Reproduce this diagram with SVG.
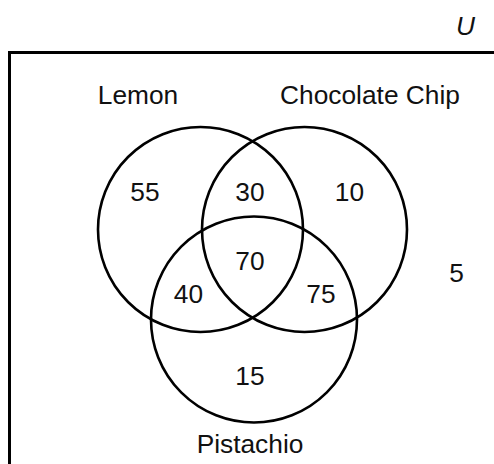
<svg xmlns="http://www.w3.org/2000/svg" width="494" height="464" viewBox="0 0 494 464">
<style>
.c{fill:none;stroke:#000;stroke-width:2.6}
.t{font-family:"Liberation Sans",Arial,sans-serif;font-size:26.3px;fill:#111;text-anchor:middle}
</style>
<rect width="494" height="464" fill="#fff"/>
<g id="universe">
<path d="M9.5 466 V52.5 H496" fill="none" stroke="#000" stroke-width="3"/>
<text class="t" x="465.5" y="35" font-style="italic">U</text>
<text class="t" x="456.5" y="282">5</text>
</g>
<g id="lemon">
<circle class="c" cx="200.5" cy="229.5" r="102.5"/>
<text class="t" x="138" y="104">Lemon</text>
</g>
<g id="chocolate">
<circle class="c" cx="304.5" cy="229.5" r="102.5"/>
<text class="t" x="370" y="104">Chocolate Chip</text>
</g>
<g id="pistachio">
<circle class="c" cx="254" cy="319.5" r="103"/>
<text class="t" x="250" y="453">Pistachio</text>
</g>
<g id="regions">
<text class="t" x="145" y="201">55</text>
<text class="t" x="250" y="201">30</text>
<text class="t" x="349.5" y="201">10</text>
<text class="t" x="250" y="270">70</text>
<text class="t" x="188.5" y="303">40</text>
<text class="t" x="321" y="303">75</text>
<text class="t" x="250" y="385">15</text>
</g>
<g id="connectors"></g>
</svg>
